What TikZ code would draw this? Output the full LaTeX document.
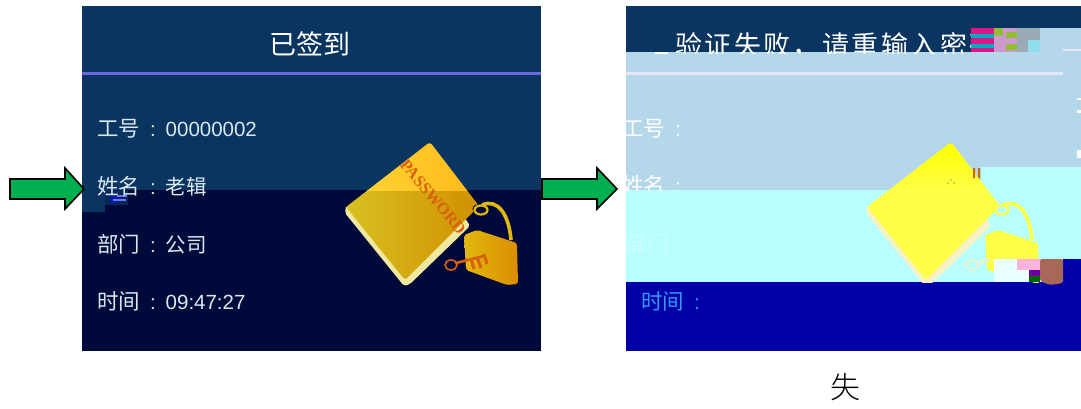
\documentclass[tikz,border=0pt]{standalone}
\usepackage{fontspec}
\setmainfont{Liberation Sans}
\newfontfamily\cjk{Noto Sans CJK SC}
\newfontfamily\cjkl{Noto Sans CJK SC Light}
\newfontfamily\cjkt[LetterSpace=9]{Noto Sans CJK SC}
\newfontfamily\pw{Liberation Serif}
\definecolor{navy}{HTML}{0A3560}
\definecolor{deep}{HTML}{000A3A}
\definecolor{rule}{HTML}{6A66E0}
\definecolor{pale}{HTML}{B5D7EA}
\definecolor{aqua}{HTML}{B8FFFF}
\definecolor{blu}{HTML}{0000A6}
\definecolor{lav}{HTML}{E8E4FA}
\definecolor{arrowg}{HTML}{00B050}
\definecolor{txt}{HTML}{DCE8F0}
\definecolor{orng}{HTML}{D8600F}
\definecolor{bookA}{HTML}{D8C020}
\definecolor{bookB}{HTML}{D09000}
\definecolor{bookC}{HTML}{FFD838}
\definecolor{bookD}{HTML}{FFB818}
\definecolor{strip}{HTML}{F0E8A0}
\definecolor{lockA}{HTML}{E0B810}
\definecolor{lockB}{HTML}{DC8C00}
\definecolor{ybook}{HTML}{FFFF48}
\definecolor{brownb}{HTML}{A86858}
\newcommand{\labd}[2]{{\cjk\fontsize{21.5}{22}\selectfont #1}\makebox[25.5pt][c]{:}#2}
\newcommand{\lab}[2]{{\cjk\fontsize{21.5}{22}\selectfont #1}\makebox[25.5pt][c]{:}{\cjk #2}}
\tikzset{
  lbl/.style={anchor=west,inner sep=0pt,font=\fontsize{20.5}{22}\selectfont,text=txt},
  title/.style={inner sep=0pt,font=\cjkt\fontsize{27}{29}\selectfont,text=white},
  greenarrow/.style={fill=arrowg,draw=black,line width=1.6pt,line join=miter},
  blk/.style={fill=#1,draw=none}
}
\begin{document}
\begin{tikzpicture}[x=1pt,y=-1pt]
\useasboundingbox (0,0) rectangle (1081,408);
% ---------- left panel
\fill[navy] (82,6) rectangle (541,190);
\fill[deep] (82,190) rectangle (541,351);
\fill[navy] (82,190) rectangle (105,212);
\fill[rule] (82,72) rectangle (541,75);
% left mosaic
\fill[navy!70!deep] (105,190) rectangle (128,205);
\fill[blk=blue!45!navy] (110,194) rectangle (118,203);
\fill[blk=white!45!blue] (117,195) rectangle (127,196.5);
\fill[blk=white!45!blue] (113,199) rectangle (126,200.5);
% left book
\fill[strip,rounded corners=2pt] (346,206) -- (345,213) -- (404,286) -- (410,284) -- (470,226) -- (465,218) -- cycle;
\begin{scope}
  \path[clip,rounded corners=3pt] (430,142) -- (479,206) -- (405,280) -- (346,207) -- cycle;
  \shade[left color=bookA,right color=bookB] (345,190) rectangle (480,290);
  \shade[left color=bookC,right color=bookD] (345,135) rectangle (480,190);
\end{scope}
\draw[lockA,line width=3.6pt] (482,205) .. controls (498,198) and (509,215) .. (511,240);
\fill[deep] (477,209) circle[radius=4.5];
\draw[lockA,line width=2.2pt] (481,210) ellipse[x radius=6.5,y radius=4.5];
\fill[rounded corners=2pt,left color=lockA,right color=lockB] (464,235) -- (477,230) -- (517,243) -- (518,284) -- (507,285) -- (466,270) -- cycle;
\node[inner sep=0pt,rotate=-50,text=orng,font=\pw\bfseries\fontsize{16.5}{17}\selectfont] (pwd) at (433,197) {PASSWORD};
\draw[orng,line width=1.6pt] (451,265) ellipse[x radius=6,y radius=5];
\draw[orng,line width=2.6pt] (456,263) -- (484,256);
\draw[orng,line width=3pt] (471,259) -- (474,269);
\draw[orng,line width=3pt] (477,257) -- (481,268);
\draw[orng,line width=3pt] (484,254) -- (487,264);
% left text
\node[title,font=\cjk\fontsize{27}{29}\selectfont] (t1) at (310,44) {已签到};
\node[lbl] (a1) at (97,129) {\labd{工号}{00000002}};
\node[lbl] (a2) at (97,186) {\lab{姓名}{老辑}};
\node[lbl] (a3) at (97,244) {\lab{部门}{公司}};
\node[lbl] (a4) at (97,301) {\labd{时间}{09:47:27}};
% ---------- right panel
\fill[navy] (626,6) rectangle (1081,52);
\fill[pale] (626,52) rectangle (1081,190);
\fill[pale] (1040,28) rectangle (1081,52);
\fill[aqua] (626,190) rectangle (1081,282);
\fill[aqua] (981,167) rectangle (1081,190);
\fill[blu] (626,282) rectangle (1081,351);
\fill[blu] (1063,259) rectangle (1081,282);
\fill[lav] (626,72) rectangle (1063,75);
\fill[lav] (1063,49) rectangle (1081,51);
% right title, cut off below
\begin{scope}
  \clip (640,6) rectangle (971,53);
  \node[title,anchor=west] (t2) at (675,45) {验证失败，请重输入密码};
\end{scope}
\fill[white] (655,52) rectangle (668,53.5);
% mosaic top right
\fill[blk=magenta!90!black] (971,28) rectangle (994,34);
\fill[blk=cyan!70!green] (971,34) rectangle (994,38);
\fill[blk=magenta!90!black] (971,38) rectangle (994,44);
\fill[blk=cyan!70!green] (971,44) rectangle (994,48);
\fill[blk=magenta!90!black] (971,48) rectangle (994,52);
\fill[blk=violet!40!white] (994,28) rectangle (1017,52);
\fill[blk=yellow!60!green!85!black] (994,28) rectangle (1003,36);
\fill[blk=yellow!60!green!85!black] (1006,32) rectangle (1017,38);
\fill[blk=yellow!60!green!85!black] (1006,44) rectangle (1017,50);
\fill[blk=gray!50!pale] (1017,28) rectangle (1040,40);
\fill[blk=pale!80!cyan] (1028,40) rectangle (1040,52);
\fill[blk=gray!50!pale] (1017,40) rectangle (1028,52);
% right clipped labels
\begin{scope}
  \clip (626,100) rectangle (1081,190);
  \node[lbl,text=white] (b1) at (622,129) {\labd{工号}{}};
  \node[lbl,text=white] (b2) at (622,185) {\labd{姓名}{}};
\end{scope}
\begin{scope}
  \clip (626,220) rectangle (680,270);
  \node[lbl,text=aqua!70!white] (b3) at (626,243) {\labd{部门}{}};
\end{scope}
\node[lbl,text=blue!50!cyan!80!white] (b4) at (641,301) {\labd{时间}{}};
\fill[white] (1077,98) rectangle (1081,100);
\fill[white] (1077,110) rectangle (1081,113);
\fill[white] (1077,150) rectangle (1081,158);
% right book
\begin{scope}
  \clip (840,130) rectangle (1081,282);
  \fill[strip!60!white,rounded corners=2pt] (867,206) -- (866,213) -- (925,286) -- (931,284) -- (991,226) -- (986,218) -- cycle;
  \begin{scope}
    \path[clip,rounded corners=3pt] (951,142) -- (1000,206) -- (926,280) -- (867,207) -- cycle;
    \shade[top color=yellow,bottom color=ybook] (860,142) rectangle (1005,190);
    \fill[ybook] (860,190) rectangle (1005,285);
  \end{scope}
  \draw[ybook,line width=3.6pt] (1003,205) .. controls (1019,198) and (1030,215) .. (1032,240);
  \draw[ybook,line width=2.2pt] (1002,210) ellipse[x radius=6.5,y radius=4.5];
  \fill[ybook,rounded corners=2pt] (985,235) -- (998,230) -- (1038,243) -- (1039,284) -- (987,270) -- cycle;
  \draw[strip!60!white,line width=1.6pt] (972,265) ellipse[x radius=6,y radius=5];
  \draw[strip!60!white,line width=2.2pt] (977,263) -- (990,259);
\end{scope}
\fill[blk=aqua!30!white] (994,259) rectangle (1029,282);
\fill[blk=magenta!30!white] (1017,259) rectangle (1040,270);
\fill[blk=violet!80!blue] (1029,270) rectangle (1040,276);
\fill[blk=green!40!black] (1029,276) rectangle (1040,282);
\fill[brownb,rounded corners=2pt] (1040,259) -- (1063,259) -- (1063,283) -- (1050,285) -- (1040,281) -- cycle;
\fill[black!70] (951,180) circle[radius=.7] (954,183) circle[radius=.7] (948,183) circle[radius=.7];
\fill[orange!80!black] (973,168) rectangle (975,178) (978,168) rectangle (980,178);
% green arrows
\draw[greenarrow] (10,179) -- (65,179) -- (65,168) -- (84,189) -- (65,209) -- (65,199) -- (10,199) -- cycle;
\draw[greenarrow] (542,179) -- (597,179) -- (597,168) -- (617,189) -- (597,209) -- (597,199) -- (542,199) -- cycle;
% caption
\node[inner sep=0pt,font=\cjkl\fontsize{30}{32}\selectfont,text=black] (cap) at (845,387) {失};
\end{tikzpicture}
\end{document}
